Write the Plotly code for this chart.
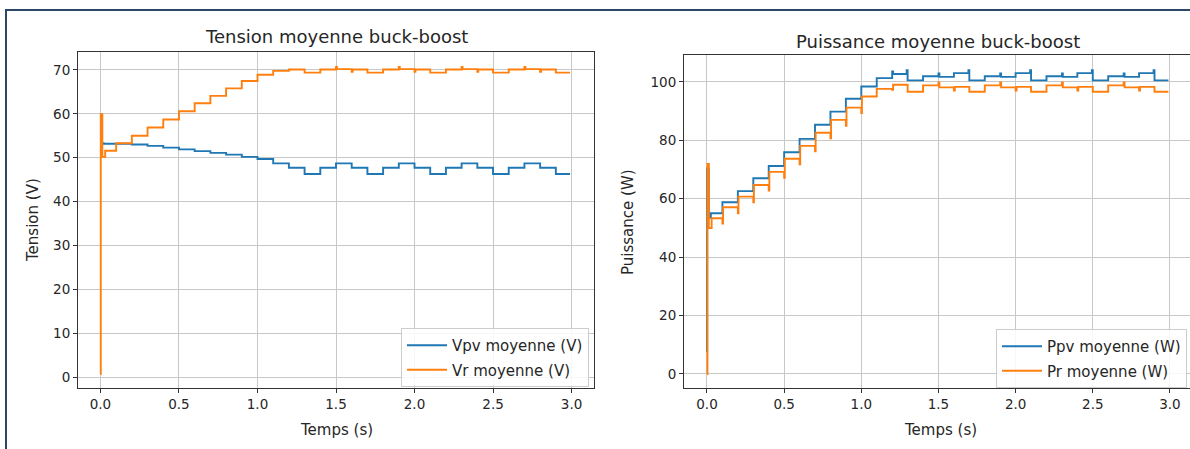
import plotly.graph_objects as go

# ---------------- data ----------------
# Average voltages of the buck-boost converter (staircase, one value per 0.1 s window)
t_vpv = [0.0, 0.004, 0.02, 0.1, 0.2, 0.3, 0.4, 0.5, 0.6, 0.7, 0.8, 0.9, 1.0, 1.1, 1.2,
         1.3, 1.4, 1.5, 1.6, 1.7, 1.8, 1.9, 2.0, 2.1, 2.2, 2.3, 2.4, 2.5, 2.6, 2.7, 2.8,
         2.9, 2.99]
vpv = [55.3, 53.3, 53.2, 53.2, 53.0, 52.7, 52.3, 51.9, 51.5, 51.1, 50.7, 50.2, 49.7, 48.7, 47.7,
       46.3, 47.7, 48.7, 47.7, 46.3, 47.7, 48.7, 47.7, 46.3, 47.7, 48.7, 47.7, 46.3, 47.7, 48.7, 47.7,
       46.3, 46.3]

t_vr = [0.0, 0.002, 0.012, 0.03, 0.1, 0.2, 0.3, 0.4, 0.5, 0.6, 0.7, 0.8, 0.9, 1.0, 1.1, 1.2,
        1.3, 1.4, 1.5, 1.506, 1.6, 1.606, 1.7, 1.8, 1.9, 1.906, 2.0, 2.006, 2.1, 2.2,
        2.3, 2.306, 2.4, 2.406, 2.5, 2.6, 2.7, 2.706, 2.8, 2.806, 2.9, 2.99]
vr = [0.7, 59.9, 50.2, 51.6, 53.3, 55.0, 56.9, 58.7, 60.6, 62.4, 64.1, 65.8, 67.5, 68.9, 69.8, 70.1,
      69.4, 70.1, 70.7, 70.2, 69.6, 70.1, 69.4, 70.1, 70.7, 70.2, 69.6, 70.1, 69.4, 70.1,
      70.7, 70.2, 69.6, 70.1, 69.4, 70.1, 70.7, 70.2, 69.6, 70.1, 69.4, 69.4]

# Average powers of the buck-boost converter
t_ppv = [0.0, 0.001, 0.012, 0.025, 0.1, 0.2, 0.3, 0.4, 0.5, 0.6, 0.7, 0.8, 0.9, 1.0, 1.1,
         1.2, 1.206, 1.294, 1.3, 1.4, 1.5, 1.506, 1.6, 1.694, 1.7, 1.8, 1.9, 1.906, 2.0,
         2.094, 2.1, 2.2, 2.3, 2.306, 2.4, 2.494, 2.5, 2.6, 2.7, 2.706, 2.8, 2.894, 2.9, 2.99]
ppv = [7.5, 70.4, 53.5, 55.0, 58.8, 62.6, 67.0, 71.2, 75.9, 80.5, 85.3, 89.8, 94.2, 98.4, 101.3,
       103.6, 102.7, 104.0, 100.5, 101.9, 102.9, 101.7, 103.0, 104.0, 100.5, 101.9, 102.9, 101.7, 103.0,
       104.0, 100.5, 101.9, 102.9, 101.7, 103.0, 104.0, 100.5, 101.9, 102.9, 101.7, 103.0, 104.0, 100.5, 100.5]

t_pr = [0.0, 0.003, 0.012, 0.03, 0.1, 0.104, 0.2, 0.204, 0.3, 0.304, 0.4, 0.404, 0.5, 0.504,
        0.6, 0.604, 0.7, 0.704, 0.8, 0.804, 0.9, 0.904, 1.0, 1.004, 1.1, 1.2, 1.206,
        1.3, 1.4, 1.5, 1.506, 1.6, 1.606, 1.7, 1.8, 1.9, 1.906, 2.0, 2.006, 2.1, 2.2,
        2.3, 2.306, 2.4, 2.406, 2.5, 2.6, 2.7, 2.706, 2.8, 2.806, 2.9, 2.99]
pr = [0.0, 71.9, 50.0, 53.3, 51.5, 57.1, 55.0, 60.7, 58.8, 64.7, 62.8, 69.2, 67.2, 73.7,
      71.8, 78.1, 76.2, 82.6, 80.7, 87.0, 85.0, 91.2, 89.3, 95.0, 97.6, 97.3, 99.0,
      96.6, 98.8, 99.8, 98.1, 97.0, 98.3, 96.6, 98.8, 99.8, 98.1, 97.0, 98.3, 96.6, 98.8,
      99.8, 98.1, 97.0, 98.3, 96.6, 98.8, 99.8, 98.1, 97.0, 98.3, 96.6, 96.6]

x_ticks = [0.0, 0.5, 1.0, 1.5, 2.0, 2.5, 3.0]
v_ticks = [0, 10, 20, 30, 40, 50, 60, 70]
p_ticks = [0, 20, 40, 60, 80, 100]

# ---------------- layout helpers ----------------
W, H = 1190, 449
BLUE, ORANGE = "#1f77b4", "#ff7f0e"
FONT = "DejaVu Sans"
TXT = "#262626"
GRID = "#c8c8c8"
SPINE = "#333333"
TICK, SMALL, BIG = 13.5, 15, 18


def fx(px):
    return px / W


def fy(py):
    return 1 - py / H


fig = go.Figure()

fig.add_trace(go.Scatter(x=t_vpv, y=vpv, mode="lines", line=dict(color=BLUE, width=1.9, shape="hv"),
                         name="Vpv moyenne (V)", xaxis="x", yaxis="y", legend="legend",
                         legendgroup="a"))
fig.add_trace(go.Scatter(x=t_vr, y=vr, mode="lines", line=dict(color=ORANGE, width=1.9, shape="hv"),
                         name="Vr moyenne (V)", xaxis="x", yaxis="y", legend="legend",
                         legendgroup="b"))
fig.add_trace(go.Scatter(x=t_ppv, y=ppv, mode="lines", line=dict(color=BLUE, width=1.9, shape="hv"),
                         name="Ppv moyenne (W)", xaxis="x2", yaxis="y2", legend="legend2",
                         legendgroup="c"))
fig.add_trace(go.Scatter(x=t_pr, y=pr, mode="lines", line=dict(color=ORANGE, width=1.9, shape="hv"),
                         name="Pr moyenne (W)", xaxis="x2", yaxis="y2", legend="legend2",
                         legendgroup="d"))

axis_common = dict(showgrid=True, gridcolor=GRID, gridwidth=1, zeroline=False,
                   showline=True, linecolor=SPINE, linewidth=1, ticks="outside",
                   ticklen=4, tickcolor=SPINE, tickfont=dict(family=FONT, size=TICK, color=TXT))

legend_common = dict(xanchor="right", yanchor="top",
                     bgcolor="rgba(255,255,255,0.85)", bordercolor="#cccccc", borderwidth=1,
                     font=dict(family=FONT, size=SMALL, color=TXT), tracegroupgap=2,
                     traceorder="grouped", itemwidth=40)

fig.update_layout(
    width=W, height=H,
    margin=dict(l=0, r=0, t=0, b=0),
    paper_bgcolor="white", plot_bgcolor="white",
    font=dict(family=FONT, color=TXT),
    xaxis=dict(domain=[fx(78), fx(594)], range=[-0.143, 3.143], tickvals=x_ticks,
               tickformat=".1f", mirror=True, anchor="y", **axis_common),
    yaxis=dict(domain=[fy(388), fy(52)], range=[-2.5, 74.1], tickvals=v_ticks,
               mirror=True, anchor="x", **axis_common),
    xaxis2=dict(domain=[fx(684), 1.0], range=[-0.149, 3.13], tickvals=x_ticks,
                tickformat=".1f", mirror=True, anchor="y2", **axis_common),
    yaxis2=dict(domain=[fy(388), fy(55)], range=[-4.8, 109.2], tickvals=p_ticks,
                mirror=False, anchor="x2", **axis_common),
    legend=dict(x=fx(589), y=fy(328), **legend_common),
    legend2=dict(x=fx(1187), y=fy(329), **legend_common),
)

# titles and axis labels
texts = [
    ("Tension moyenne buck-boost", 336, 37, BIG, 0),
    ("Puissance moyenne buck-boost", 938, 41, BIG, 0),
    ("Temps (s)", 336, 430, SMALL, 0),
    ("Temps (s)", 940, 430, SMALL, 0),
    ("Tension (V)", 33, 220, SMALL, -90),
    ("Puissance (W)", 628, 222, SMALL, -90),
]
for txt, px, py, size, angle in texts:
    fig.add_annotation(text=txt, x=fx(px), y=fy(py), xref="paper", yref="paper",
                       xanchor="center", yanchor="middle", showarrow=False, textangle=angle,
                       font=dict(family=FONT, size=size, color=TXT))

# outer frame of the figure panel
fig.add_shape(type="line", xref="paper", yref="paper", x0=fx(5), x1=1.0, y0=fy(10), y1=fy(10),
              line=dict(color="#2c4766", width=2))
fig.add_shape(type="line", xref="paper", yref="paper", x0=fx(6), x1=fx(6), y0=fy(10), y1=0,
              line=dict(color="#2c4766", width=2))

fig.write_html("out.html")
